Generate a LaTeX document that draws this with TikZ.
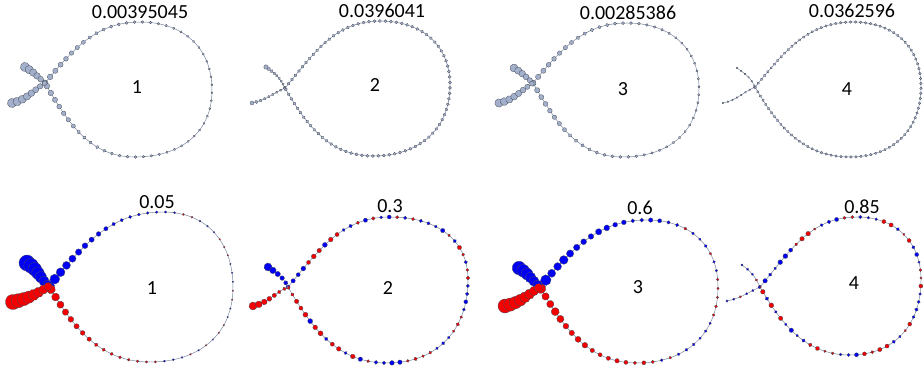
\documentclass[tikz,border=0pt]{standalone}
\usepackage{fontspec}
\setmainfont{Carlito}
\usetikzlibrary{decorations.markings}

\definecolor{chainline}{RGB}{125,138,160}
\definecolor{beadfill}{RGB}{163,176,204}
\definecolor{beadedge}{RGB}{70,74,88}
\definecolor{beadblue}{RGB}{0,0,245}
\definecolor{beadred}{RGB}{245,0,0}

% loop of a chain: crossing, top, right, bottom
\newcommand{\teardrop}[4]{(#1) to[out=50,in=180] (#2) to[out=0,in=90,looseness=1.1] (#3) to[out=-90,in=0,looseness=1.1] (#4) to[out=180,in=-60] (#1)}

% one bead, size and colour from its place on the path
\newcommand{\putbead}{%
  \pgfmathsetmacro\bs{min(1,max(0,\pgfkeysvalueof{/pgf/decoration/mark info/distance from start}/\pgfdecoratedpathlength))}%
  \pgfmathsetmacro\br{(\beadRm+(\beadRa-\beadRm)*(1-\bs)^\beadPw+(\beadRb-\beadRm)*\bs^\beadPw)*(1+\beadJit*(rnd-0.5))}%
  \pgfmathtruncatemacro\bk{\bs<\beadBf ? 0 : (\bs>\beadRf ? 1 : (rnd<0.5 ? 0 : 1))}%
  \ifnum\beadGray=1 \path[graybead] (0,0) circle (\br pt);
  \else\ifnum\bk=0 \path[bluebead] (0,0) circle (\br pt);
  \else \path[redbead] (0,0) circle (\br pt);\fi\fi
}

\tikzset{
  chain/.style={draw=chainline, line width=0.5pt},
  graybead/.style={fill=beadfill, draw=beadedge, line width=0.3pt},
  bluebead/.style={fill=beadblue, draw=beadedge, line width=0.3pt},
  redbead/.style={fill=beadred, draw=beadedge, line width=0.3pt},
  lab/.style={font=\fontsize{20}{24}\selectfont, inner sep=0pt},
  bead ra/.store in=\beadRa, bead rb/.store in=\beadRb, bead rm/.store in=\beadRm,
  bead pw/.store in=\beadPw, blue to/.store in=\beadBf, red from/.store in=\beadRf,
  bead gap/.store in=\beadGap, jitter/.store in=\beadJit,
  gray beads/.code={\def\beadGray{1}}, colour beads/.code={\def\beadGray{0}},
  bead ra=2, bead rb=2, bead rm=1, bead pw=5, blue to=-1, red from=2,
  bead gap=6pt, jitter=0, gray beads,
  beads/.style={postaction={decorate, decoration={markings,
    mark=between positions 0 and 1 step \beadGap with {\putbead}}}}
}

\begin{document}
\begin{tikzpicture}[x=1pt,y=1pt]
\useasboundingbox (0,0) rectangle (923,371);
\pgfmathsetseed{11}

% top row
\coordinate (c1) at (45,288); \coordinate (t1) at (140,349); \coordinate (r1) at (212,281);
\coordinate (b1) at (135,214); \coordinate (u1) at (25,304); \coordinate (l1) at (12,268);
\coordinate (c2) at (285,283); \coordinate (t2) at (380,350); \coordinate (r2) at (450,286);
\coordinate (b2) at (373,215); \coordinate (u2) at (266,304); \coordinate (l2) at (252,268);
\coordinate (c3) at (533,288); \coordinate (t3) at (627,348); \coordinate (r3) at (699,282);
\coordinate (b3) at (623,214); \coordinate (u3) at (514,303); \coordinate (l3) at (499,268);
\coordinate (c4) at (755,284); \coordinate (t4) at (853,349); \coordinate (r4) at (921,284);
\coordinate (b4) at (850,214); \coordinate (u4) at (737,303); \coordinate (l4) at (723,268);

\draw[chain,beads,bead ra=3,bead rb=3,bead rm=0.9,bead pw=5,bead gap=8pt] \teardrop{c1}{t1}{r1}{b1};
\draw[chain,beads,bead ra=4.6,bead rb=2.4,bead rm=2.4,bead pw=1,bead gap=5pt] (u1) to[out=-30,in=140] (c1);
\draw[chain,beads,bead ra=4.6,bead rb=2.4,bead rm=2.4,bead pw=1,bead gap=5.5pt] (l1) to[out=12,in=212] (c1);

\draw[chain,beads,bead ra=1.6,bead rb=1.6,bead rm=1.5,bead gap=5.5pt] \teardrop{c2}{t2}{r2}{b2};
\draw[chain,beads,bead ra=2.2,bead rb=1.2,bead rm=1.2,bead pw=3,bead gap=3.5pt] (u2) to[out=-35,in=115] (c2);
\draw[chain,beads,bead ra=2,bead rb=1.2,bead rm=1.2,bead pw=3,bead gap=4.5pt] (l2) to[out=12,in=205] (c2);

\draw[chain,beads,bead ra=2.8,bead rb=2.8,bead rm=0.9,bead pw=4,bead gap=8pt] \teardrop{c3}{t3}{r3}{b3};
\draw[chain,beads,bead ra=4,bead rb=2.3,bead rm=2.3,bead pw=1,bead gap=5pt] (u3) to[out=-30,in=140] (c3);
\draw[chain,beads,bead ra=4.2,bead rb=2.3,bead rm=2.3,bead pw=1,bead gap=5.5pt] (l3) to[out=12,in=212] (c3);

\draw[chain,beads,bead ra=1.3,bead rb=1.3,bead rm=1.3,bead gap=5pt] \teardrop{c4}{t4}{r4}{b4};
\draw[chain,beads,bead ra=0.9,bead rb=0.9,bead rm=0.9,bead gap=5pt] (u4) to[out=-35,in=115] (c4);
\draw[chain,beads,bead ra=0.9,bead rb=0.9,bead rm=0.9,bead gap=5pt] (l4) to[out=12,in=205] (c4);

\node[lab] (e1) at (140,359) {0.00395045};
\node[lab] (e2) at (382,360) {0.0396041};
\node[lab] (e3) at (628,358) {0.00285386};
\node[lab] (e4) at (852,360) {0.0362596};
\node[lab] (n1) at (137,284) {1};
\node[lab] (n2) at (375,286) {2};
\node[lab] (n3) at (623,282) {3};
\node[lab] (n4) at (847,282) {4};

% bottom row
\coordinate (c5) at (49,85); \coordinate (t5) at (163,159); \coordinate (r5) at (233,84);
\coordinate (b5) at (150,9); \coordinate (u5) at (27,108); \coordinate (l5) at (13,69);
\coordinate (c6) at (288,84); \coordinate (t6) at (390,154); \coordinate (r6) at (468,91);
\coordinate (b6) at (387,8); \coordinate (u6) at (268,104); \coordinate (l6) at (253,65);
\coordinate (c7) at (540,84); \coordinate (t7) at (647,151); \coordinate (r7) at (718,84);
\coordinate (b7) at (637,8); \coordinate (u7) at (519,103); \coordinate (l7) at (505,65);
\coordinate (c8) at (760,84); \coordinate (t8) at (857,154); \coordinate (r8) at (921,91);
\coordinate (b8) at (850,16); \coordinate (u8) at (742,106); \coordinate (l8) at (727,70);

\draw[chain,beads,colour beads,bead ra=5.5,bead rb=4.6,bead rm=0.7,bead pw=7,bead gap=9pt,blue to=0.3,red from=0.72] \teardrop{c5}{t5}{r5}{b5};
\draw[chain,beads,colour beads,bead ra=8,bead rb=4.3,bead rm=4.3,bead pw=1,bead gap=5pt,blue to=2] (u5) to[out=-30,in=140] (c5);
\draw[chain,beads,colour beads,bead ra=7.6,bead rb=4,bead rm=4,bead pw=1,bead gap=5.5pt,red from=-1] (l5) to[out=12,in=212] (c5);

\draw[chain,beads,colour beads,bead ra=2.4,bead rb=2.4,bead rm=1.5,bead pw=3,bead gap=8pt,jitter=0.5,blue to=0.06,red from=0.93] \teardrop{c6}{t6}{r6}{b6};
\draw[chain,beads,colour beads,bead ra=4,bead rb=2,bead rm=2,bead pw=2,bead gap=6pt,blue to=2] (u6) to[out=-35,in=115] (c6);
\draw[chain,beads,colour beads,bead ra=4,bead rb=1.8,bead rm=1.8,bead pw=2,bead gap=6pt,red from=-1] (l6) to[out=12,in=205] (c6);

\draw[chain,beads,colour beads,bead ra=5,bead rb=4.3,bead rm=0.8,bead pw=4,bead gap=9pt,jitter=0.3,blue to=0.33,red from=0.7] \teardrop{c7}{t7}{r7}{b7};
\draw[chain,beads,colour beads,bead ra=6.8,bead rb=4.3,bead rm=4.3,bead pw=1,bead gap=5pt,blue to=2] (u7) to[out=-30,in=140] (c7);
\draw[chain,beads,colour beads,bead ra=7,bead rb=4.2,bead rm=4.2,bead pw=1,bead gap=5.5pt,red from=-1] (l7) to[out=12,in=212] (c7);

\draw[chain,beads,colour beads,bead ra=2,bead rb=2,bead rm=1.5,bead pw=3,bead gap=8pt,jitter=0.6] \teardrop{c8}{t8}{r8}{b8};
\draw[chain,beads,colour beads,bead ra=1.2,bead rb=1.2,bead rm=1.2,bead gap=7pt] (u8) to[out=-35,in=115] (c8);
\draw[chain,beads,colour beads,bead ra=1.2,bead rb=1.2,bead rm=1.2,bead gap=7pt] (l8) to[out=12,in=205] (c8);

\node[lab] (e5) at (157,169) {0.05};
\node[lab] (e6) at (390,165) {0.3};
\node[lab] (e7) at (640,163) {0.6};
\node[lab] (e8) at (862,164) {0.85};
\node[lab] (n5) at (152,83) {1};
\node[lab] (n6) at (388,83) {2};
\node[lab] (n7) at (638,84) {3};
\node[lab] (n8) at (854,88) {4};
\end{tikzpicture}
\end{document}
